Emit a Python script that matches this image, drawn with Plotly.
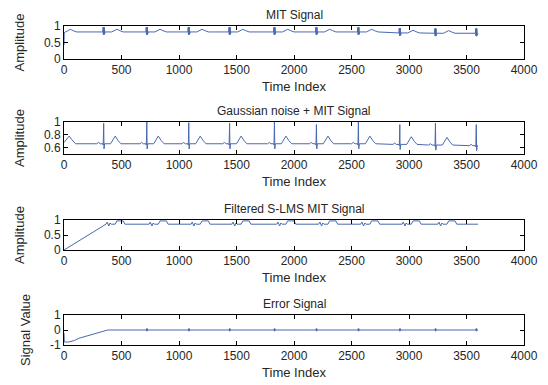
import plotly.graph_objects as go

# ---------------- data ----------------
beat_times = [345, 720, 1085, 1440, 1830, 2195, 2560, 2920, 3230, 3585]
record_end = 3600

# Panel 1: MIT signal
mit_base = [0.82, 0.82, 0.82, 0.82, 0.82, 0.82, 0.82, 0.79, 0.78, 0.78]
mit_start_x = [0, 2, 30, 55, 85, 110]
mit_start_y = [0.42, 0.80, 0.85, 0.90, 0.85, 0.82]
mit_qrs_dt = [-8, -5, -3, 0, 3, 5, 8, 11]
mit_qrs_dev = [0.0, 0.14, -0.08, 0.15, -0.09, 0.14, -0.06, 0.0]
mit_t_dt = [70, 95, 115, 140, 170]
mit_t_dev = [0.0, 0.04, 0.08, 0.04, 0.0]

# Panel 2: Gaussian noise + MIT signal
noisy_base = [0.66, 0.66, 0.66, 0.66, 0.66, 0.66, 0.66, 0.65, 0.64, 0.63]
noisy_peak = [0.32, 0.34, 0.33, 0.32, 0.34, 0.30, 0.34, 0.31, 0.34, 0.33]
noisy_start_x = [0, 20, 45, 70, 100]
noisy_start_y = [0.68, 0.73, 0.78, 0.72, 0.66]
noisy_p_dt = [-60, -45, -30]
noisy_p_dev = [0.0, 0.02, 0.0]
noisy_qrs_dt = [-8, -4, 0, 3, 8]
noisy_qrs_dev = [0.0, -0.02, 1.0, -0.08, 0.0]   # 1.0 -> replaced by peak
noisy_t_dt = [60, 85, 100, 125, 150]
noisy_t_dev = [0.0, 0.08, 0.12, 0.05, 0.0]

# Panel 3: filtered S-LMS signal
filt_base = 0.86
filt_start_x = [0, 100, 200, 300, 360]
filt_start_y = [0.0, 0.24, 0.49, 0.71, 0.86]
filt_qrs_dt = [20, 30, 45, 55, 65]
filt_qrs_dev = [0.0, 0.07, -0.06, 0.04, 0.0]
filt_t_dt = [100, 115, 170, 185]
filt_t_dev = [0.0, 0.11, 0.11, 0.0]

# Panel 4: error signal
err_start_x = [0, 3, 40, 90, 130, 380]
err_start_y = [-0.2, -0.8, -0.8, -0.7, -0.55, 0.0]
err_qrs_dt = [-5, -2, 0, 3, 6, 9]
err_qrs_dev = [0.0, 0.08, -0.08, 0.10, -0.05, 0.0]

x_ticks = [0, 500, 1000, 1500, 2000, 2500, 3000, 3500, 4000]
titles = ["MIT Signal", "Gaussian noise + MIT Signal",
          "Filtered S-LMS MIT Signal", "Error Signal"]
y_titles = ["Amplitude", "Amplitude", "Amplitude", "Signal Value"]
y_ranges = [[0, 1], [0.5, 1], [0, 1], [-1, 1]]
y_ticks = [[0, 0.5, 1], [0.6, 0.8, 1], [0, 0.5, 1], [-1, 0, 1]]


def build(start_x, start_y, parts, end_val):
    pts = list(zip(start_x, start_y))
    last = start_x[-1]
    for i, b in enumerate(beat_times):
        for dts, devs, base in parts(i):
            for dt, dv in zip(dts, devs):
                t = b + dt
                if last < t <= record_end:
                    pts.append((t, base + dv))
                    last = t
    if last < record_end:
        pts.append((record_end, end_val))
    return [p[0] for p in pts], [p[1] for p in pts]


x1, y1 = build(mit_start_x, mit_start_y,
               lambda i: [(mit_qrs_dt, mit_qrs_dev, mit_base[i]),
                          (mit_t_dt, mit_t_dev, mit_base[i])], 0.78)
x2, y2 = build(noisy_start_x, noisy_start_y,
               lambda i: [(noisy_p_dt, noisy_p_dev, noisy_base[i]),
                          (noisy_qrs_dt,
                           [noisy_peak[i] if d == 1.0 else d for d in noisy_qrs_dev],
                           noisy_base[i]),
                          (noisy_t_dt, noisy_t_dev, noisy_base[i])], 0.63)
x3, y3 = build(filt_start_x, filt_start_y,
               lambda i: [(filt_qrs_dt, filt_qrs_dev, filt_base),
                          (filt_t_dt, filt_t_dev, filt_base)], 0.86)
x4, y4 = build(err_start_x, err_start_y,
               lambda i: [(err_qrs_dt, err_qrs_dev, 0.0)], 0.0)

series = [(x1, y1), (x2, y2), (x3, y3), (x4, y4)]

# ---------------- figure ----------------
H = 385
panels_px = [(26, 59), (122, 154), (220, 250), (315, 345)]
line_color = "#4a68b0"
font = "Liberation Sans, Arial, sans-serif"
txt = "#262626"

fig = go.Figure()
layout = dict(
    width=548, height=385,
    margin=dict(l=64, r=24, t=0, b=0, autoexpand=False),
    paper_bgcolor="white", plot_bgcolor="white",
    showlegend=False,
    font=dict(family=font, size=12, color=txt),
    annotations=[],
)

for k, ((xs, ys), (top, bot)) in enumerate(zip(series, panels_px)):
    n = "" if k == 0 else str(k + 1)
    fig.add_trace(go.Scatter(x=xs, y=ys, mode="lines",
                             line=dict(color=line_color, width=1),
                             xaxis="x" + n, yaxis="y" + n, hoverinfo="skip"))
    dom = [1 - bot / H, 1 - top / H]
    axcommon = dict(showline=True, mirror="allticks", linecolor="black",
                    linewidth=1, ticks="inside", ticklen=4, tickcolor="black",
                    showgrid=False, zeroline=False, automargin=False,
                    tickfont=dict(family=font, size=12, color=txt))
    layout["xaxis" + n] = dict(
        axcommon, domain=[0, 1], anchor="y" + n, range=[0, 4000],
        tickvals=x_ticks, ticktext=[str(v) for v in x_ticks],
        title=dict(text="Time Index", standoff=5,
                   font=dict(family=font, size=13, color=txt)))
    layout["yaxis" + n] = dict(
        axcommon, domain=dom, anchor="x" + n, range=y_ranges[k],
        tickvals=y_ticks[k], ticktext=[("%g" % v) for v in y_ticks[k]],
        title=dict(text=y_titles[k], standoff=16,
                   font=dict(family=font, size=13, color=txt)))
    layout["annotations"].append(dict(
        text=titles[k], xref="paper", yref="paper", x=0.5, y=dom[1],
        yanchor="bottom", yshift=2, showarrow=False,
        font=dict(family=font, size=12, color=txt)))

fig.update_layout(**layout)
fig.write_html("out.html",
               config={"displayModeBar": False},
               post_script="document.body.style.margin='0';"
                           "document.body.style.padding='0';")
